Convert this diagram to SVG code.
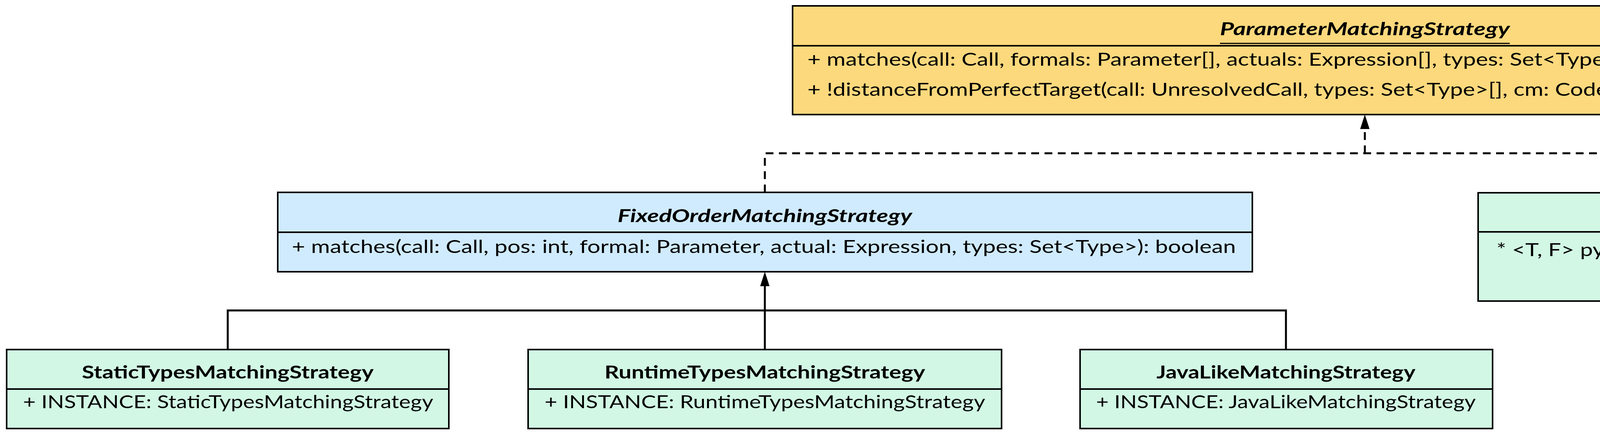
<svg xmlns="http://www.w3.org/2000/svg" width="6434" height="1110" viewBox="0 0 6434 1110">
<style>
.box{stroke:#000;stroke-width:4}
.div{stroke:#000;stroke-width:4}
.t{font-family:Lato,"Liberation Sans",sans-serif;font-size:46px;fill:#000}
.b{font-weight:bold;text-anchor:middle}
.i{font-style:italic}
.y{fill:#FDD97D}.bl{fill:#D0EBFE}.g{fill:#D2F8E5}
.c{fill:none;stroke:#000;stroke-width:5}
.d{stroke-dasharray:20 14}
</style>
<rect width="6434" height="1110" fill="#fff"/>
<g id="connectors">
<path class="c d" d="M1958 492V392H5100V493M3494 392V328"/>
<path class="c" d="M583 894V794H3292V894M1958 894V728"/>
<polygon points="3494,293 3482,330 3506,330"/>
<polygon points="1958,695 1946,732 1970,732"/>
</g>
<g id="ParameterMatchingStrategy">
<rect class="box y" x="2029" y="15" width="2933" height="278"/>
<line class="div" x1="2029" y1="117" x2="4962" y2="117"/>
<text class="t b i" x="3494" y="90" textLength="742" lengthAdjust="spacingAndGlyphs">ParameterMatchingStrategy</text>
<line x1="3123" y1="111" x2="3865" y2="111" stroke="#000" stroke-width="3"/>
<text class="t" x="2067" y="168" textLength="2363" lengthAdjust="spacingAndGlyphs">+ matches(call: Call, formals: Parameter[], actuals: Expression[], types: Set&lt;Type&gt;[]): boolean</text>
<text class="t" x="2067" y="245" textLength="2856" lengthAdjust="spacingAndGlyphs">+ !distanceFromPerfectTarget(call: UnresolvedCall, types: Set&lt;Type&gt;[], cm: CodeMember, instance: boolean): int</text>
</g>
<g id="FixedOrderMatchingStrategy">
<rect class="box bl" x="711" y="492" width="2495" height="203"/>
<line class="div" x1="711" y1="594" x2="3206" y2="594"/>
<text class="t b i" x="1958" y="568" textLength="754" lengthAdjust="spacingAndGlyphs">FixedOrderMatchingStrategy</text>
<text class="t" x="747" y="647" textLength="2417" lengthAdjust="spacingAndGlyphs">+ matches(call: Call, pos: int, formal: Parameter, actual: Expression, types: Set&lt;Type&gt;): boolean</text>
</g>
<g id="PythonLikeMatchingStrategy">
<rect class="box g" x="3784" y="493" width="2633" height="277"/>
<line class="div" x1="3784" y1="593" x2="6417" y2="593"/>
<text class="t b" x="5100" y="567" textLength="741" lengthAdjust="spacingAndGlyphs">PythonLikeMatchingStrategy</text>
<text class="t" x="3831" y="655" textLength="2533" lengthAdjust="spacingAndGlyphs">* &lt;T, F&gt; pythonLogic(formals: Parameter[], actuals: Expression[], given: T[], givenTypes: Set&lt;Type&gt;[],</text>
<text class="t" x="4200" y="722" textLength="2171" lengthAdjust="spacingAndGlyphs">defaults: T[], defaultTypes: Set&lt;Type&gt;[], slots: T[], slotTypes: Set&lt;Type&gt;[], failure: F): F</text>
</g>
<g id="StaticTypesMatchingStrategy">
<rect class="box g" x="17" y="894" width="1132" height="202"/>
<line class="div" x1="17" y1="995" x2="1149" y2="995"/>
<text class="t b" x="583" y="968" textLength="747" lengthAdjust="spacingAndGlyphs">StaticTypesMatchingStrategy</text>
<text class="t" x="59" y="1044" textLength="1050" lengthAdjust="spacingAndGlyphs">+ INSTANCE: StaticTypesMatchingStrategy</text>
</g>
<g id="RuntimeTypesMatchingStrategy">
<rect class="box g" x="1352" y="894" width="1212" height="202"/>
<line class="div" x1="1352" y1="995" x2="2564" y2="995"/>
<text class="t b" x="1958" y="968" textLength="821" lengthAdjust="spacingAndGlyphs">RuntimeTypesMatchingStrategy</text>
<text class="t" x="1394" y="1044" textLength="1128" lengthAdjust="spacingAndGlyphs">+ INSTANCE: RuntimeTypesMatchingStrategy</text>
</g>
<g id="JavaLikeMatchingStrategy">
<rect class="box g" x="2765" y="894" width="1056" height="202"/>
<line class="div" x1="2765" y1="995" x2="3821" y2="995"/>
<text class="t b" x="3292" y="968" textLength="663" lengthAdjust="spacingAndGlyphs">JavaLikeMatchingStrategy</text>
<text class="t" x="2806" y="1044" textLength="972" lengthAdjust="spacingAndGlyphs">+ INSTANCE: JavaLikeMatchingStrategy</text>
</g>
</svg>
